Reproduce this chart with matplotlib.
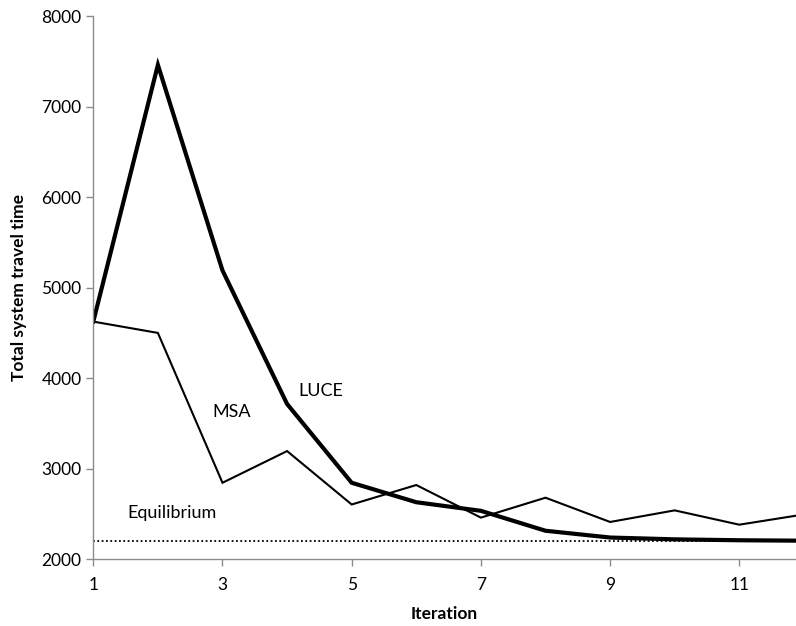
import matplotlib
matplotlib.use("Agg")
import matplotlib.pyplot as plt

iterations = [1, 2, 3, 4, 5, 6, 7, 8, 9, 10, 11, 12]
luce = [4625, 7460, 5190, 3715, 2845, 2630, 2535, 2315, 2240, 2220, 2210, 2205]
msa = [4625, 4500, 2845, 3195, 2605, 2820, 2460, 2680, 2412, 2540, 2382, 2495]
equilibrium = [2200] * 12

x_ticks = [1, 3, 5, 7, 9, 11]
y_ticks = [2000, 3000, 4000, 5000, 6000, 7000, 8000]

plt.rcParams['font.family'] = ['Lato', 'DejaVu Sans']

fig = plt.figure(figsize=(7.96, 6.26), dpi=100)
ax = fig.add_axes([0.1172, 0.1066, 0.8828, 0.8678])

ax.plot(iterations, equilibrium, color='black', linewidth=1.3, linestyle=(0, (1, 1.4)))
ax.plot(iterations, msa, color='black', linewidth=1.5, solid_joinstyle='miter')
ax.plot(iterations, luce, color='black', linewidth=3.0, solid_joinstyle='miter')

ax.text(4.52, 3860, 'LUCE', fontsize=13, ha='center', va='center')
ax.text(3.14, 3630, 'MSA', fontsize=13, ha='center', va='center')
ax.text(2.22, 2510, 'Equilibrium', fontsize=13, ha='center', va='center')

ax.set_xlim(1, 11.878)
ax.set_ylim(2000, 8000)
ax.set_xticks(x_ticks)
ax.set_yticks(y_ticks)

for side in ['top', 'right']:
    ax.spines[side].set_visible(False)
for side in ['left', 'bottom']:
    ax.spines[side].set_color('#8c8c8c')
    ax.spines[side].set_linewidth(1.0)
ax.tick_params(colors='#8c8c8c', labelcolor='black', length=5, width=1.0, labelsize=12.5)
ax.tick_params(axis='x', pad=8)

ax.set_xlabel('Iteration', fontsize=12.5, fontweight='bold', labelpad=9)
ax.set_ylabel('Total system travel time', fontsize=12.5, fontweight='bold', labelpad=10)

fig.savefig('out.png', dpi=100)
